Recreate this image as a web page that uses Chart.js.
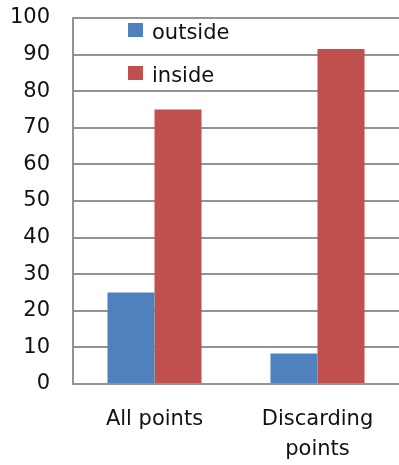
<!DOCTYPE html>
<html>
<head>
<meta charset="utf-8">
<script src="https://cdn.jsdelivr.net/npm/chart.js@4/dist/chart.umd.min.js"></script>
<style>
  html, body { margin: 0; padding: 0; background: #ffffff; }
  #wrap { width: 399px; height: 465px; position: relative; }
</style>
</head>
<body>
<div id="wrap"><canvas id="chart" width="399" height="465"></canvas></div>
<script>
// Categories (multi-line labels are arrays)
const categories = [['All points'], ['Discarding', 'points']];
// Percentage of points per group
const outsideValues = [25, 8.3];
const insideValues = [75, 91.5];
// Y axis range and tick step
const yMin = 0;
const yMax = 100;
const yStep = 10;

const seriesNames = ['outside', 'inside'];
const seriesColors = ['#4f81bd', '#c0504d'];

const FONT = 'DejaVu Sans, Verdana, sans-serif';
const TEXT = '#111111';
const GRID = '#939393';

// Legend drawn inside the plot area, stacked vertically
const insetLegend = {
  id: 'insetLegend',
  afterDraw(chart) {
    const { ctx, chartArea } = chart;
    ctx.save();
    ctx.font = '21px ' + FONT;
    ctx.textBaseline = 'alphabetic';
    ctx.textAlign = 'left';
    chart.data.datasets.forEach((ds, i) => {
      const y = chartArea.top + 5 + i * 43;
      ctx.fillStyle = ds.backgroundColor;
      ctx.fillRect(chartArea.left + 55, y, 15, 14);
      ctx.fillStyle = TEXT;
      ctx.fillText(ds.label, chartArea.left + 79, y + 16);
    });
    ctx.restore();
  }
};

new Chart(document.getElementById('chart'), {
  type: 'bar',
  data: {
    labels: categories,
    datasets: [
      { label: seriesNames[0], data: outsideValues, backgroundColor: seriesColors[0] },
      { label: seriesNames[1], data: insideValues, backgroundColor: seriesColors[1] }
    ]
  },
  options: {
    responsive: false,
    animation: false,
    devicePixelRatio: 1,
    layout: { padding: { left: 0, top: 18, right: 0, bottom: 0 } },
    datasets: {
      bar: { barPercentage: 1.0, categoryPercentage: 0.577, borderWidth: 0 }
    },
    plugins: {
      legend: { display: false },
      tooltip: { enabled: false }
    },
    scales: {
      x: {
        grid: { display: false, drawTicks: false },
        border: { display: true, color: GRID, width: 2 },
        ticks: {
          color: TEXT,
          font: { family: FONT, size: 21, lineHeight: 1.43 },
          padding: 21,
          maxRotation: 0,
          autoSkip: false
        },
        afterFit(scale) {
          scale.height = 81;
          scale.paddingLeft = 0;
          scale.paddingRight = 0;
        }
      },
      y: {
        min: yMin,
        max: yMax,
        grid: { color: GRID, lineWidth: 2, drawTicks: false },
        border: { display: true, color: GRID, width: 2 },
        ticks: {
          stepSize: yStep,
          color: TEXT,
          font: { family: FONT, size: 21 },
          padding: 23
        },
        afterFit(scale) {
          scale.width = 73;
          scale.paddingTop = 0;
          scale.paddingBottom = 0;
        }
      }
    }
  },
  plugins: [insetLegend]
});
</script>
</body>
</html>
